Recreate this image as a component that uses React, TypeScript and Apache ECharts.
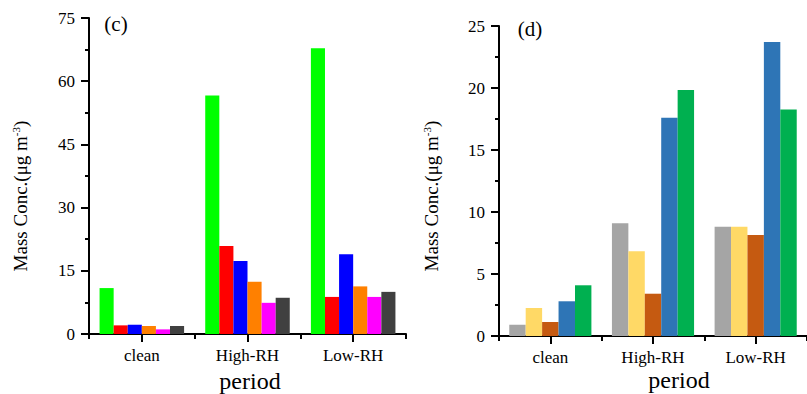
import React, { useEffect, useRef } from "react";
import * as echarts from "echarts";

const periods = ["clean", "High-RH", "Low-RH"];

// Panel (c)
const cTicks = [0, 15, 30, 45, 60, 75];
const cSeries1 = [10.9, 56.6, 67.8];
const cSeries2 = [2.05, 20.9, 8.8];
const cSeries3 = [2.2, 17.3, 18.9];
const cSeries4 = [1.9, 12.4, 11.3];
const cSeries5 = [1.1, 7.4, 8.8];
const cSeries6 = [1.9, 8.6, 10.0];
const cColors = ["#00ff00", "#ff0000", "#0000ff", "#ff8000", "#ff00ff", "#404040"];

// Panel (d)
const dTicks = [0, 5, 10, 15, 20, 25];
const dSeries1 = [0.91, 9.09, 8.82];
const dSeries2 = [2.26, 6.83, 8.82];
const dSeries3 = [1.13, 3.41, 8.15];
const dSeries4 = [2.8, 17.6, 23.7];
const dSeries5 = [4.09, 19.83, 18.27];
const dColors = ["#a5a5a5", "#ffd966", "#c55a11", "#2e75b6", "#00b050"];

const FONT = "'Liberation Serif', 'Times New Roman', serif";

export default function App() {
  const ref = useRef<HTMLDivElement>(null);
  useEffect(() => {
    if (!ref.current) return;
    const chart = echarts.init(ref.current, undefined, { renderer: "svg" });
    const axisLineStyle = { color: "#000", width: 2 };
    const labelStyle = { fontFamily: FONT, fontSize: 17, color: "#000" };

    const yAxis = (gridIndex: number, ticks: number[]) => ({
      type: "value",
      gridIndex,
      min: ticks[0],
      max: ticks[ticks.length - 1],
      interval: ticks[1] - ticks[0],
      axisLine: { show: true, lineStyle: axisLineStyle },
      axisTick: { show: true, length: 8, lineStyle: axisLineStyle },
      minorTick: { show: true, splitNumber: 2, length: 4, lineStyle: axisLineStyle },
      splitLine: { show: false },
      axisLabel: { ...labelStyle, margin: 14 },
    });
    const yAxisHidden = (gridIndex: number, ticks: number[]) => ({
      type: "value",
      gridIndex,
      min: ticks[0],
      max: ticks[ticks.length - 1],
      interval: ticks[1] - ticks[0],
      show: false,
    });
    // main x axis: line, labels, long ticks at category centres
    const xAxisMain = (gridIndex: number) => ({
      type: "category",
      gridIndex,
      data: periods,
      axisLine: { show: true, lineStyle: axisLineStyle },
      axisTick: { show: true, alignWithLabel: true, length: 8, lineStyle: axisLineStyle },
      axisLabel: { ...labelStyle, margin: 13 },
    });
    // overlay x axis: short ticks at category boundaries
    const xAxisBounds = (gridIndex: number) => ({
      type: "category",
      gridIndex,
      data: periods,
      axisLine: { show: false },
      axisTick: { show: true, length: 5, lineStyle: axisLineStyle },
      axisLabel: { show: false },
      splitLine: { show: false },
    });

    const cData = [cSeries1, cSeries2, cSeries3, cSeries4, cSeries5, cSeries6];
    const dData = [dSeries1, dSeries2, dSeries3, dSeries4, dSeries5];

    const series: any[] = [];
    cData.forEach((d, i) =>
      series.push({
        type: "bar",
        name: "c" + (i + 1),
        xAxisIndex: 0,
        yAxisIndex: 0,
        data: d,
        barGap: "0%",
        barCategoryGap: "20%",
        itemStyle: { color: cColors[i] },
      })
    );
    dData.forEach((d, i) =>
      series.push({
        type: "bar",
        name: "d" + (i + 1),
        xAxisIndex: 2,
        yAxisIndex: 2,
        data: d,
        barGap: "0%",
        barCategoryGap: "20%",
        itemStyle: { color: dColors[i] },
      })
    );

    const yName = (x: number, y: number) => ({
      type: "text",
      x,
      y,
      rotation: Math.PI / 2,
      style: {
        text: "{a|Mass Conc.(μg m}{s|-3}{a|)}",
        align: "center",
        verticalAlign: "middle",
        fill: "#000",
        rich: {
          a: { fontFamily: FONT, fontSize: 19, lineHeight: 20, fill: "#000", verticalAlign: "bottom" },
          s: { fontFamily: FONT, fontSize: 11, lineHeight: 20, fill: "#000", verticalAlign: "top" },
        },
      },
    });
    const txt = (x: number, y: number, text: string, size: number) => ({
      type: "text",
      x,
      y,
      style: {
        text,
        align: "center",
        verticalAlign: "middle",
        fontFamily: FONT,
        fontSize: size,
        fill: "#000",
      },
    });

    const gridC = { left: 89, top: 18, width: 317, height: 316 };
    const gridD = { left: 499, top: 26, width: 316, height: 310 };

    chart.setOption({
      animation: false,
      backgroundColor: "#fff",
      grid: [gridC, gridC, gridD, gridD],
      xAxis: [xAxisMain(0), xAxisBounds(1), xAxisMain(2), xAxisBounds(3)],
      yAxis: [
        yAxis(0, cTicks),
        yAxisHidden(1, cTicks),
        yAxis(2, dTicks),
        yAxisHidden(3, dTicks),
      ],
      series,
      graphic: [
        txt(116, 24, "(c)", 21),
        txt(530, 29, "(d)", 21),
        txt(250, 381, "period", 24),
        txt(679, 380, "period", 24),
        yName(20, 196),
        yName(431, 196),
      ],
    });
    return () => chart.dispose();
  }, []);
  return (
    <div
      ref={ref}
      style={{ position: "fixed", left: 0, top: 0, width: 807, height: 394 }}
    />
  );
}
